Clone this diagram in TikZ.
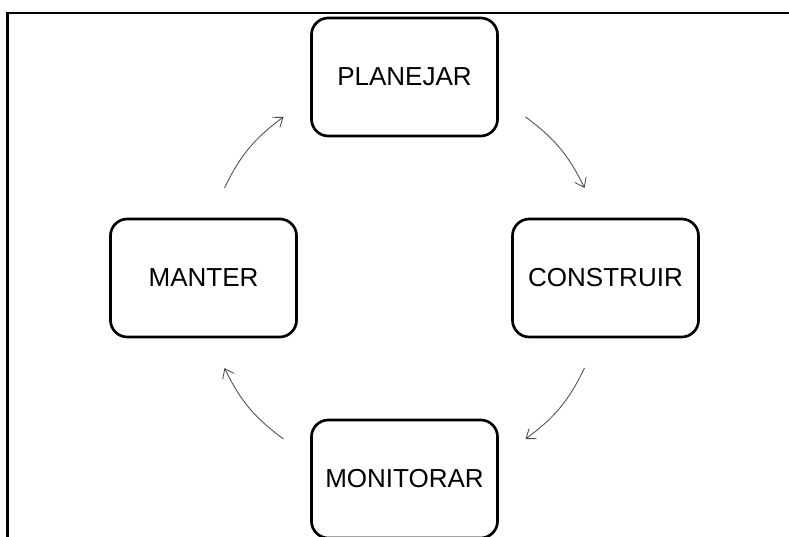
\documentclass[tikz,border=0pt]{standalone}
\usepackage{fontspec}
\setmainfont{Liberation Sans}
\usetikzlibrary{arrows.meta}

\begin{document}
\begin{tikzpicture}[x=0.025cm, y=0.025cm,
  fase/.style={draw, line width=1.9pt, rounded corners=12pt, minimum width=4.65cm, minimum height=2.95cm, font=\fontsize{18.5}{22}\selectfont},
  ciclo/.style={draw=black!70, line width=0.6pt, -{Straight Barb[length=6pt,width=9pt]}, bend left=14}]
  \clip (0,0) rectangle (789,537);
  % moldura
  \draw[line width=1.5pt] (7.5,0) -- (7.5,524) -- (789,524);
  \node[fase] (planejar) at (404.5,460) {PLANEJAR};
  \node[fase] (manter) at (203.5,259) {MANTER};
  \node[fase] (construir) at (605.5,259) {CONSTRUIR};
  \node[fase] (monitorar) at (404.5,58) {MONITORAR};
  % setas do ciclo
  \draw[ciclo] ([shift={(21,90)}]manter.center) to ([shift={(-121,-40)}]planejar.center);
  \draw[ciclo] ([shift={(121,-40)}]planejar.center) to ([shift={(-21,90)}]construir.center);
  \draw[ciclo] ([shift={(-21,-90)}]construir.center) to ([shift={(121,40)}]monitorar.center);
  \draw[ciclo] ([shift={(-121,40)}]monitorar.center) to ([shift={(21,-90)}]manter.center);
\end{tikzpicture}
\end{document}
